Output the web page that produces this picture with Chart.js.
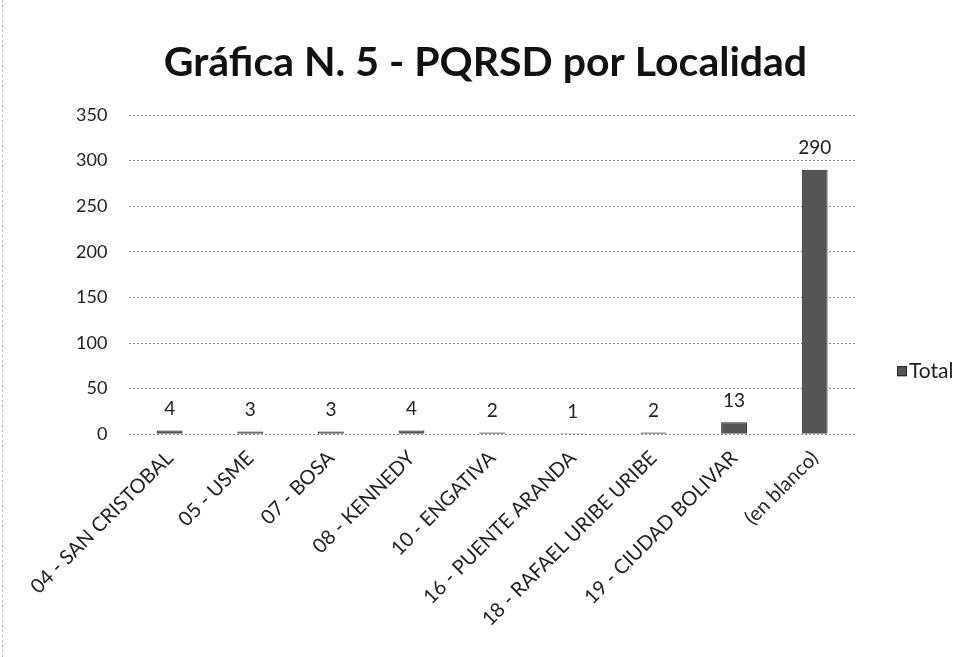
<!DOCTYPE html>
<html>
<head>
<meta charset="utf-8">
<script src="https://cdn.jsdelivr.net/npm/chart.js@4"></script>
<style>
  html, body { margin: 0; padding: 0; background: #fff; }
  #wrap { width: 979px; height: 657px; position: relative; }
</style>
</head>
<body>
<div id="wrap"><canvas id="localidadChart"></canvas></div>
<script>
const titulo = 'Gráfica N. 5 - PQRSD por Localidad';
const localidades = [
    '04 - SAN CRISTOBAL',
    '05 - USME',
    '07 - BOSA',
    '08 - KENNEDY',
    '10 - ENGATIVA',
    '16 - PUENTE ARANDA',
    '18 - RAFAEL URIBE URIBE',
    '19 - CIUDAD BOLIVAR',
    '(en blanco)'
];
const totales = [4, 3, 3, 4, 2, 1, 2, 13, 290];
const yTicks = [0, 50, 100, 150, 200, 250, 300, 350];

const fontFamily = 'Lato, "Open Sans", sans-serif';
const barColor = '#555555';

// título, etiquetas de valor y leyenda dibujados a mano
const extras = {
    id: 'extras',
    beforeDraw(chart) {
        // marco punteado del gráfico original (borde izquierdo)
        const ctx = chart.ctx;
        ctx.save();
        ctx.strokeStyle = '#b0b0b0';
        ctx.setLineDash([2, 3]);
        ctx.beginPath();
        ctx.moveTo(2.5, 0);
        ctx.lineTo(2.5, chart.height);
        ctx.stroke();
        ctx.restore();
    },
    afterDatasetsDraw(chart) {
        const ctx = chart.ctx;
        const meta = chart.getDatasetMeta(0);
        const area = chart.chartArea;
        ctx.save();

        ctx.font = 'bold 41px ' + fontFamily;
        ctx.fillStyle = '#111';
        ctx.textAlign = 'center';
        ctx.textBaseline = 'middle';
        ctx.fillText(titulo, chart.width / 2 - 4, 63);

        ctx.font = '19px ' + fontFamily;
        ctx.fillStyle = '#222';
        ctx.textBaseline = 'bottom';
        meta.data.forEach((bar, i) => {
            ctx.fillText(String(totales[i]), bar.x, bar.y - 12);
        });

        const ly = area.bottom - 63;
        const lx = area.right + 42;
        ctx.fillStyle = barColor;
        ctx.strokeStyle = '#222';
        ctx.lineWidth = 1;
        ctx.fillRect(lx, ly - 5, 10, 10);
        ctx.strokeRect(lx + 0.5, ly - 4.5, 9, 9);
        ctx.font = '21px ' + fontFamily;
        ctx.fillStyle = '#222';
        ctx.textAlign = 'left';
        ctx.textBaseline = 'middle';
        ctx.fillText('Total', lx + 12, ly);
        ctx.restore();
    }
};

document.addEventListener('DOMContentLoaded', () => {
    const canvas = document.getElementById('localidadChart');

    new Chart(canvas, {
        type: 'bar',
        data: {
            labels: localidades,
            datasets: [{
                label: 'Total',
                data: totales,
                backgroundColor: barColor,
                borderColor: '#222',
                borderWidth: 1,
                categoryPercentage: 0.64,
                barPercentage: 0.5,
            }],
        },
        options: {
            responsive: true,
            maintainAspectRatio: false,
            animation: false,
            layout: { padding: { left: 54, right: 124, top: 115, bottom: 14 } },
            plugins: {
                title: { display: false },
                legend: { display: false },
                tooltip: { enabled: false },
            },
            scales: {
                x: {
                    grid: { display: false, drawTicks: false },
                    border: { display: false },
                    ticks: {
                        color: '#222',
                        font: { family: fontFamily, size: 20 },
                        maxRotation: 45,
                        minRotation: 45,
                        autoSkip: false,
                        padding: 12,
                    },
                },
                y: {
                    min: 0,
                    max: 350,
                    afterBuildTicks: (axis) => { axis.ticks = yTicks.map(v => ({ value: v })); },
                    grid: { color: '#8a8a8a', lineWidth: 1, drawTicks: false },
                    border: { display: false, dash: [2, 2] },
                    ticks: {
                        color: '#222',
                        font: { family: fontFamily, size: 18 },
                        padding: 22,
                    },
                },
            },
        },
        plugins: [extras],
    });
});
</script>
</body>
</html>
